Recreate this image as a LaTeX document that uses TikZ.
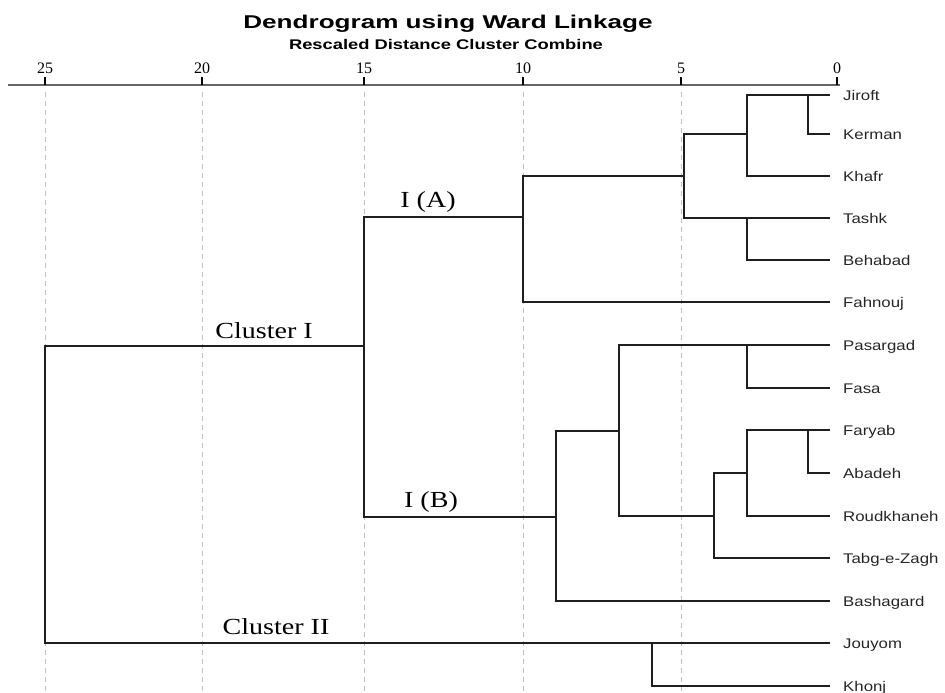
\documentclass[tikz,border=0pt]{standalone}
\usepackage{fontspec}
\setmainfont{Liberation Serif}
\newfontfamily\leaffont[FakeStretch=1.2]{Liberation Sans}
\newfontfamily\titlefont[FakeStretch=1.41]{Liberation Sans}
\newfontfamily\subfont[FakeStretch=1.31]{Liberation Sans}
\newfontfamily\clusterfont[FakeStretch=1.22]{Liberation Serif}
\newcommand\dmerge[3]{\draw[branch] (#2) -- (#2 -| #1) -- (#3 -| #1) -- (#3);}
\begin{document}
\begin{tikzpicture}[x=1pt,y=-1pt,
  leaf/.style={font=\leaffont\fontsize{14}{14}\selectfont, text=black!85, anchor=west, inner sep=0pt, text height=10pt, text depth=0pt},
  ttl/.style={font=\titlefont\bfseries\fontsize{18.5}{18.5}\selectfont, anchor=base, inner sep=0pt},
  subt/.style={font=\subfont\bfseries\fontsize{14}{14}\selectfont, anchor=base, inner sep=0pt},
  ticklab/.style={font=\fontsize{16}{16}\selectfont, anchor=base, inner sep=0pt},
  clab/.style={font=\clusterfont\fontsize{23}{23}\selectfont, anchor=base, inner sep=0pt},
  branch/.style={draw=black!88, line width=1.8pt},
  axisline/.style={draw=black!60, line width=2.8pt},
  tickmark/.style={draw=black, line width=2pt},
  gridline/.style={draw=gray!50, line width=0.9pt, dash pattern=on 5pt off 4pt}]
\useasboundingbox (0,0) rectangle (945,693);
% titles
\node[ttl] (title) at (448,29) {Dendrogram using Ward Linkage};
\node[subt] (subtitle) at (446,50) {Rescaled Distance Cluster Combine};
% grid lines
\foreach \x in {45,202,364,523,681} {\draw[gridline] (\x,92) -- (\x,693);}
% axis
\coordinate (axL) at (8,85);
\coordinate (axR) at (840,85);
\draw[axisline] (axL) -- (axR);
\foreach \v/\x in {25/45,20/202,15/364,10/523,5/681,0/837} {
  \coordinate (tk\v) at (\x,85);
  \draw[tickmark] (tk\v) -- ++(0,-8);
  \node[ticklab] (tl\v) at (\x,74) {\v};
}
% leaves
\foreach \i/\name/\y in {1/Jiroft/95,2/Kerman/134,3/Khafr/176,4/Tashk/218,5/Behabad/260,6/Fahnouj/302,7/Pasargad/345,8/Fasa/388,9/Faryab/430,10/Abadeh/473,11/Roudkhaneh/516,12/Tabg-e-Zagh/558,13/Bashagard/601,14/Jouyom/643,15/Khonj/686} {
  \node[leaf] (t\i) at (843,\y) {\name};
  \coordinate (l\i) at (830,\y);
}
% merge points
\coordinate (n1) at (808,95);
\coordinate (n2) at (747,134);
\coordinate (n3) at (747,218);
\coordinate (n4) at (684,176);
\coordinate (n5) at (523,217);
\coordinate (n6) at (747,345);
\coordinate (n7) at (808,430);
\coordinate (n8) at (747,473);
\coordinate (n9) at (714,516);
\coordinate (n10) at (619,431);
\coordinate (n11) at (556,517);
\coordinate (n12) at (364,346);
\coordinate (n13) at (652,643);
\coordinate (n14) at (45,643);
\dmerge{n1}{l1}{l2}
\dmerge{n2}{n1}{l3}
\dmerge{n3}{l4}{l5}
\dmerge{n4}{n2}{n3}
\dmerge{n5}{n4}{l6}
\dmerge{n6}{l7}{l8}
\dmerge{n7}{l9}{l10}
\dmerge{n8}{n7}{l11}
\dmerge{n9}{n8}{l12}
\dmerge{n10}{n6}{n9}
\dmerge{n11}{n10}{l13}
\dmerge{n12}{n5}{n11}
\dmerge{n13}{l14}{l15}
\dmerge{n14}{n12}{n13}
% cluster labels
\node[clab] (cIA) at (428,207) {I (A)};
\node[clab] (cI) at (264,338) {Cluster I};
\node[clab] (cIB) at (431,507) {I (B)};
\node[clab] (cII) at (276,634) {Cluster II};
\end{tikzpicture}
\end{document}
